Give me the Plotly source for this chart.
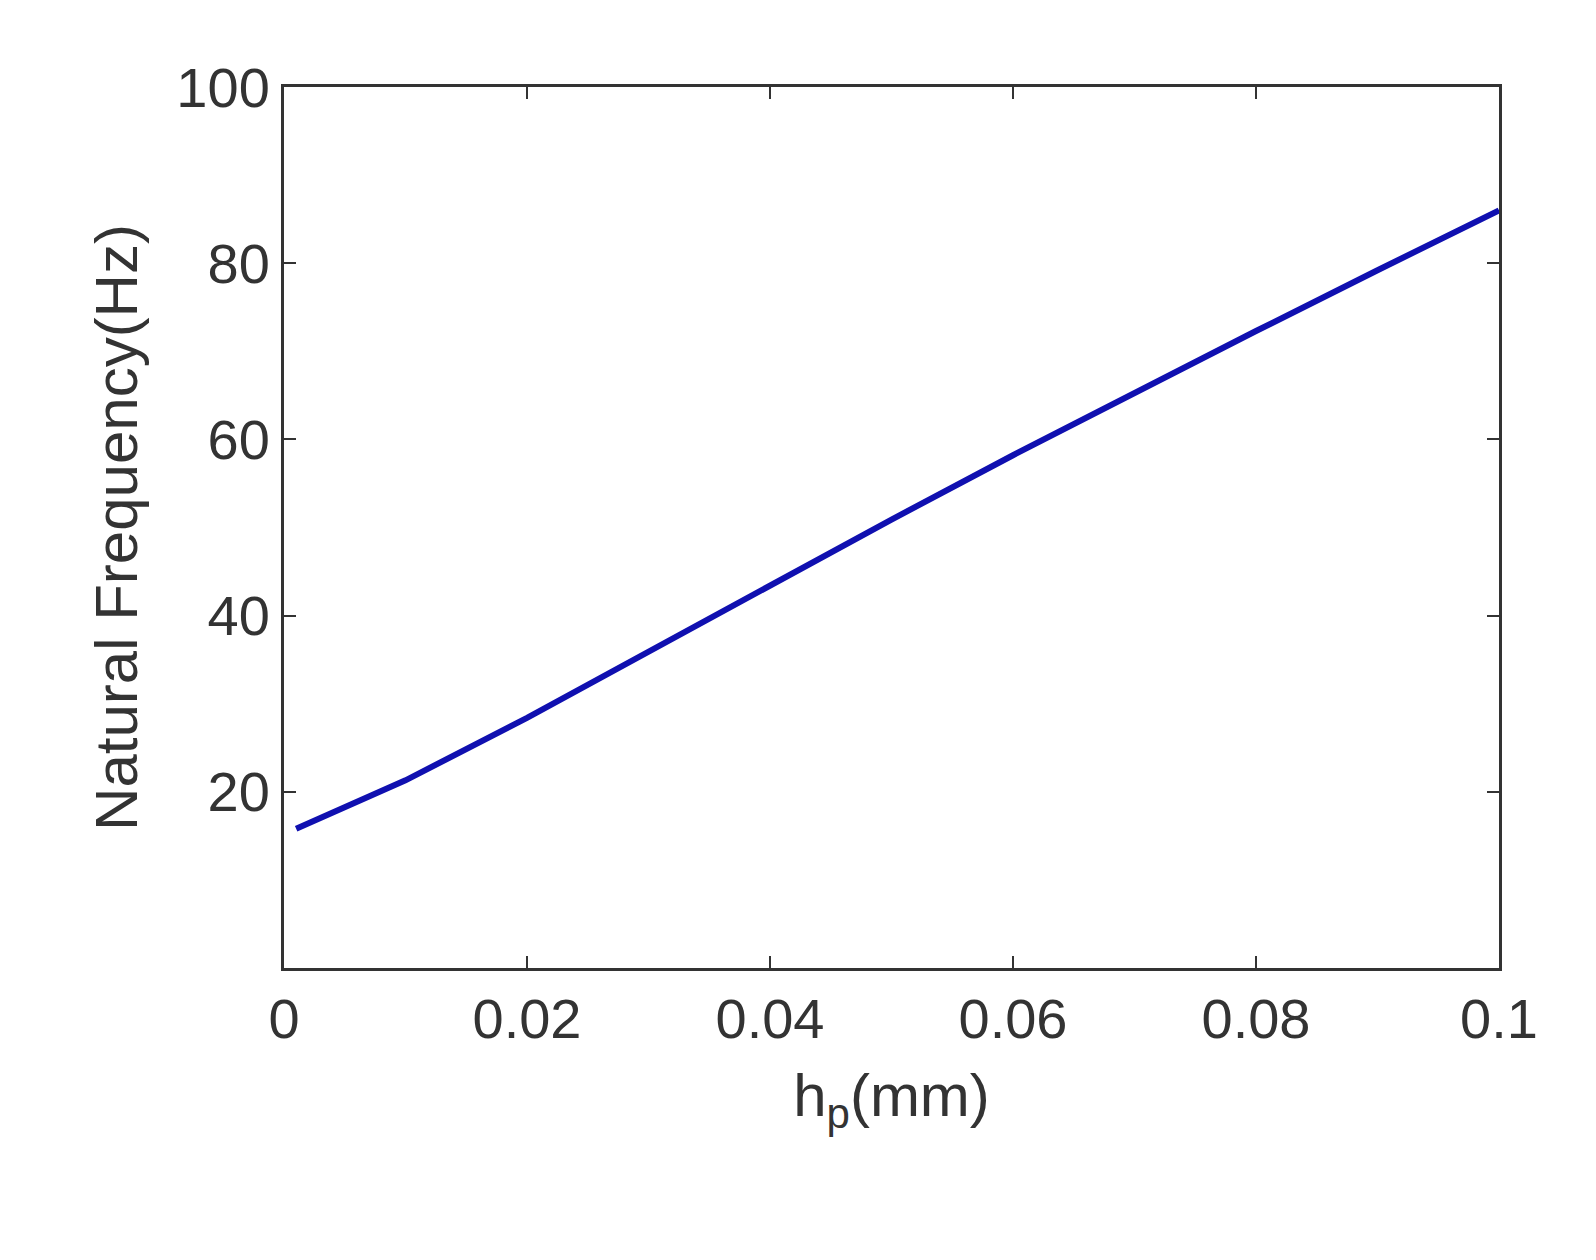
import plotly.graph_objects as go

hp = [0.001, 0.005, 0.01, 0.02, 0.03, 0.04, 0.05, 0.06, 0.07, 0.08, 0.09, 0.1]
freq = [15.8, 18.3, 21.3, 28.4, 35.9, 43.4, 50.9, 58.2, 65.3, 72.3, 79.2, 86.0]
xticks = [0, 0.02, 0.04, 0.06, 0.08, 0.1]
xticklabels = ["0", "0.02", "0.04", "0.06", "0.08", "0.1"]
yticks = [20, 40, 60, 80, 100]

fig = go.Figure(go.Scatter(x=hp, y=freq, mode="lines", line=dict(color="#1010b0", width=6)))
axis_common = dict(showgrid=False, zeroline=False, showline=True, linecolor="#333", linewidth=3,
                   mirror="ticks", ticks="inside", ticklen=12, tickwidth=2, tickcolor="#333",
                   tickfont=dict(size=56, color="#333"))
fig.update_xaxes(range=[0, 0.1], tickvals=xticks, ticktext=xticklabels,
                 title=dict(text="h<sub>p</sub>(mm)", font=dict(size=60, color="#333"), standoff=25), **axis_common)
fig.update_yaxes(range=[0, 100], tickvals=yticks,
                 title=dict(text="Natural Frequency(Hz)", font=dict(size=60, color="#333"), standoff=20), **axis_common)
fig.update_layout(width=1596, height=1260, margin=dict(l=276, r=105, t=79, b=300),
                  plot_bgcolor="white", paper_bgcolor="white", showlegend=False,
                  font=dict(family="Liberation Sans, Arial"))
fig.write_html("out.html")
